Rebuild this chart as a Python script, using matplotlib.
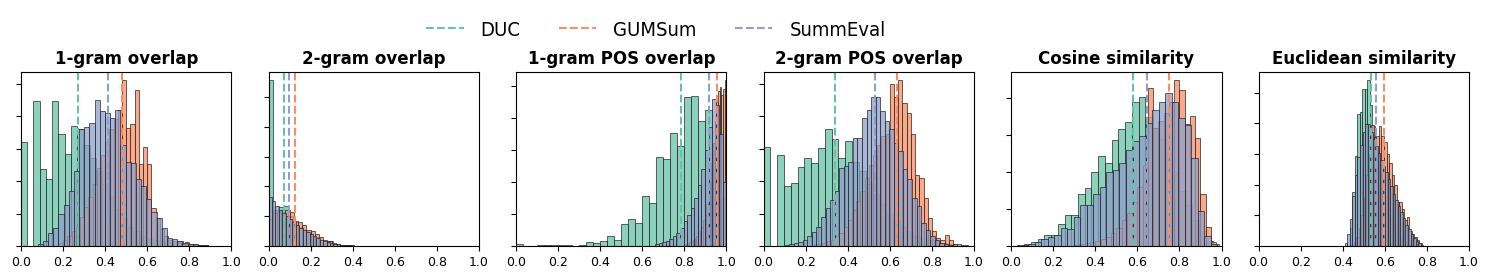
import numpy as np
import matplotlib
matplotlib.use("Agg")
import matplotlib.pyplot as plt
from matplotlib.lines import Line2D

titles = ["1-gram overlap", "2-gram overlap", "1-gram POS overlap",
          "2-gram POS overlap", "Cosine similarity", "Euclidean similarity"]
names = ["DUC", "GUMSum", "SummEval"]
colors = ["#66c2a5", "#fc8d62", "#8da0cb"]

# mean lines per metric
duc_means = [0.27, 0.073, 0.783, 0.34, 0.581, 0.532]
gum_means = [0.481, 0.126, 0.956, 0.633, 0.752, 0.596]
se_means = [0.413, 0.098, 0.916, 0.53, 0.646, 0.558]

# histogram bin ranges (lo, hi) and bar heights
duc_1gram_rng = (0.0, 0.89)
duc_1gram = [3.21, 0, 4.45, 2.38, 2.07, 4.45, 3.46, 2.84, 3.69, 3.59, 3.1, 2.7, 2.3, 1.9, 1.5,
             1.15, 0.85, 0.6, 0.45, 0.32, 0.25, 0.2, 0.15, 0.12, 0.1, 0.15, 0.08, 0.05, 0.03, 0.02]
gum_1gram_rng = (0.18, 0.86)
gum_1gram = [0.1, 0.2, 0.3, 0.45, 0.6, 0.9, 1.2, 1.5, 1.9, 2.4, 2.8, 3.2, 3.6, 3.9, 4.2, 5.1, 3.64,
             3.74, 4.8, 2.51, 3.05, 2.51, 1.18, 0.87, 0.53, 0.31, 0.2, 0.15, 0.1, 0.08, 0.12, 0.06, 0.03, 0.02]
se_1gram_rng = (0.08, 0.89)
se_1gram = [0.07, 0.15, 0.4, 0.55, 1.0, 1.25, 1.7, 2.3, 3.6, 3.65, 3.8, 4.48, 4.15, 4.1, 3.95, 4.2,
            3.1, 2.6, 2.55, 2.05, 1.85, 1.45, 1.05, 0.85, 0.55, 0.25, 0.22, 0.15, 0.1, 0.08, 0.05, 0.03, 0.02]

duc_2gram_rng = (0.0, 0.66)
duc_2gram = [5.56, 1.2, 1.3, 1.35, 1.0, 0.8, 0.65, 0.5, 0.4, 0.3, 0.15, 0.12, 0.17, 0.06, 0.04, 0.03,
             0.02, 0.02, 0.01, 0.01, 0.01, 0.01, 0.0, 0.01, 0.0, 0.0, 0.0, 0.01]
gum_2gram_rng = (0.0, 0.5)
gum_2gram = [0.9, 1.1, 1.15, 1.2, 1.22, 1.15, 0.85, 0.8, 0.7, 0.55, 0.5, 0.4, 0.3, 0.2, 0.18, 0.1,
             0.07, 0.05, 0.04, 0.03, 0.02, 0.02, 0.01, 0.01, 0.01]
se_2gram_rng = (0.0, 0.65)
se_2gram = [1.66, 1.52, 1.35, 1.2, 1.1, 1.0, 0.92, 0.8, 0.7, 0.62, 0.55, 0.47, 0.4, 0.33, 0.27, 0.22,
            0.17, 0.13, 0.1, 0.08, 0.06, 0.05, 0.04, 0.03, 0.03, 0.02, 0.02, 0.02, 0.01, 0.01, 0.01,
            0.01, 0.01, 0.0, 0.01, 0.0, 0.0, 0.01, 0.0, 0.01]

duc_1pos_rng = (0.0, 1.0)
duc_1pos = [0.08, 0, 0, 0.02, 0.02, 0.05, 0.02, 0.02, 0, 0.02, 0.12, 0.09, 0.16, 0.31, 0.18, 0.69,
            0.86, 0.71, 1.56, 1.33, 2.77, 2.72, 3.52, 3.13, 4.65, 4.69, 3.91, 4.25, 3.0, 1.5]
gum_1pos_rng = (0.8, 1.0)
gum_1pos = [0.05, 0.07, 0.1, 0.12, 0.15, 0.2, 0.25, 0.3, 0.4, 0.5, 0.6, 0.8, 1.0, 1.3, 1.6, 2.0,
            2.6, 3.2, 3.9, 4.5, 4.85, 4.95, 4.7, 4.9, 5.17]
se_1pos_rng = (0.66, 1.0)
se_1pos = [0.06, 0.09, 0.12, 0.17, 0.22, 0.3, 0.42, 0.58, 0.78, 0.98, 1.2, 1.5, 1.9, 2.4, 3.0, 3.7,
           4.58, 4.4, 3.5, 2.0]

duc_2pos_rng = (0.0, 0.97)
duc_2pos = [3.06, 0, 2.81, 1.85, 1.95, 2.44, 2.7, 2.56, 3.02, 3.59, 3.3, 2.72, 3.23, 2.6, 2.3, 1.9,
            1.6, 1.3, 1.0, 0.8, 0.6, 0.45, 0.3, 0.25, 0.2, 0.15, 0.1, 0.08, 0.06, 0.04]
gum_2pos_rng = (0.24, 0.92)
gum_2pos = [0.05, 0.08, 0.1, 0.15, 0.2, 0.3, 0.4, 0.6, 0.8, 1.1, 1.4, 1.7, 2.1, 2.5, 2.8, 3.1, 3.4,
            3.45, 4.97, 4.6, 5.1, 4.41, 4.1, 3.44, 2.2, 2.1, 1.49, 0.85, 0.46, 0.25, 0.2, 0.34, 0.2, 0.05]
se_2pos_rng = (0.1, 0.9)
se_2pos = [0.04, 0.06, 0.1, 0.12, 0.18, 0.3, 0.42, 0.6, 0.9, 1.18, 1.43, 1.69, 2.41, 2.46, 2.6, 3.33,
           3.33, 3.95, 4.2, 4.6, 4.6, 4.15, 3.85, 3.6, 3.18, 2.92, 2.36, 2.05, 1.49, 1.23, 0.72, 0.51,
           0.31, 0.2, 0.1, 0.05, 0.03]

duc_cos_rng = (0.03, 0.99)
duc_cos = [0.04, 0.06, 0.1, 0.2, 0.29, 0.3, 0.6, 0.83, 0.83, 1.4, 1.58, 2.0, 2.45, 2.25, 2.88, 3.17,
           3.36, 3.89, 4.04, 3.5, 3.2, 2.9, 2.5, 2.0, 1.5, 1.1, 0.7, 0.4, 0.15, 0.05]
gum_cos_rng = (0.3, 0.975)
gum_cos = [0.02, 0.05, 0.08, 0.1, 0.15, 0.2, 0.25, 0.35, 0.5, 0.7, 0.9, 1.2, 1.6, 2.2, 4.28, 3.2,
           3.4, 3.6, 3.9, 4.49, 4.23, 3.3, 3.51, 2.93, 1.4, 0.52, 0.1]
se_cos_rng = (0.05, 0.98)
se_cos = [0.02, 0.05, 0.1, 0.2, 0.25, 0.3, 0.5, 0.45, 0.79, 1.1, 1.12, 1.42, 1.6, 2.0, 2.07, 2.25,
          2.6, 2.85, 2.99, 3.33, 3.69, 3.89, 4.14, 3.89, 3.46, 3.29, 2.39, 0.95, 0.27, 0.05]

duc_euc_rng = (0.434, 0.755)
duc_euc = [0.6, 1.76, 2.93, 4.29, 4.37, 5.13, 5.13, 5.4, 4.6, 3.9, 3.2, 2.7, 2.3, 1.9, 1.5, 1.2,
           0.95, 0.7, 0.5, 0.38, 0.28, 0.2, 0.14, 0.1, 0.06, 0.03, 0.02]
gum_euc_rng = (0.44, 0.776)
gum_euc = [0.05, 0.15, 0.3, 0.6, 1.0, 1.6, 2.3, 3.0, 3.93, 3.55, 3.6, 3.9, 3.6, 3.4, 3.0, 2.7, 2.3,
           2.0, 1.45, 1.45, 1.2, 0.85, 0.95, 0.5, 0.4, 0.3, 0.2, 0.1]
se_euc_rng = (0.41, 0.782)
se_euc = [0.1, 0.38, 0.87, 1.63, 2.3, 2.9, 3.3, 3.7, 3.97, 3.97, 3.7, 3.48, 3.26, 3.04, 2.8, 2.6,
          2.4, 2.2, 1.95, 1.7, 1.5, 1.3, 1.1, 0.9, 0.7, 0.55, 0.4, 0.28, 0.18, 0.1, 0.05]

panels = [
    [(duc_1gram_rng, duc_1gram), (gum_1gram_rng, gum_1gram), (se_1gram_rng, se_1gram)],
    [(duc_2gram_rng, duc_2gram), (gum_2gram_rng, gum_2gram), (se_2gram_rng, se_2gram)],
    [(duc_1pos_rng, duc_1pos), (gum_1pos_rng, gum_1pos), (se_1pos_rng, se_1pos)],
    [(duc_2pos_rng, duc_2pos), (gum_2pos_rng, gum_2pos), (se_2pos_rng, se_2pos)],
    [(duc_cos_rng, duc_cos), (gum_cos_rng, gum_cos), (se_cos_rng, se_cos)],
    [(duc_euc_rng, duc_euc), (gum_euc_rng, gum_euc), (se_euc_rng, se_euc)],
]
means = [duc_means, gum_means, se_means]

fig, axs = plt.subplots(1, 6, figsize=(14.89, 2.8), dpi=100)
fig.subplots_adjust(left=0.0141, right=0.9866, top=0.743, bottom=0.121, wspace=0.176)

for i, ax in enumerate(axs):
    for j, (rng, h) in enumerate(panels[i]):
        edges = np.linspace(rng[0], rng[1], len(h) + 1)
        centers = (edges[:-1] + edges[1:]) / 2
        ax.hist(centers, bins=edges, weights=h, color=colors[j], alpha=0.75,
                edgecolor="#222222", linewidth=0.65)
        ax.axvline(means[j][i], color=colors[j], linestyle="--", linewidth=1.5)
    ax.set_xlim(0, 1)
    ax.set_xticks(np.arange(0, 1.01, 0.2))
    ax.tick_params(axis="x", labelsize=9)
    ax.tick_params(axis="y", labelleft=False)
    ax.set_title(titles[i], fontsize=12, fontweight="bold")

handles = [Line2D([0], [0], color=c, linestyle="--", linewidth=1.5) for c in colors]
fig.legend(handles, names, loc="center", bbox_to_anchor=(656 / 1489, 1 - 30 / 280), ncol=3,
           frameon=False, prop={"family": "DejaVu Sans", "stretch": "condensed", "size": 14.5},
           handlelength=1.85, handletextpad=0.85, columnspacing=1.9)

fig.savefig("out.png", dpi=100)
